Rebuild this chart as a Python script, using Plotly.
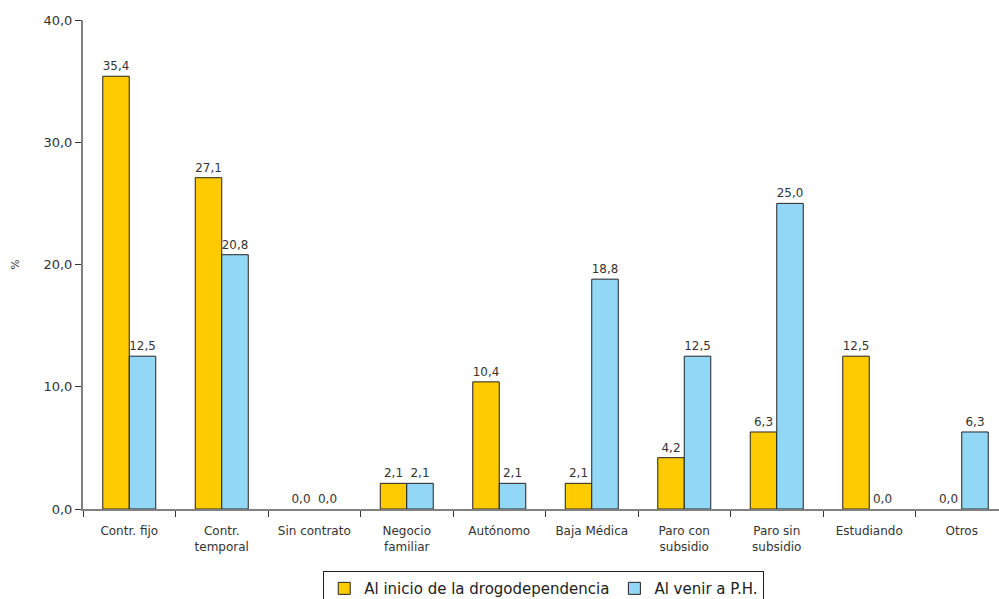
import plotly.graph_objects as go

categories = ["Contr. fijo", "Contr.<br>temporal", "Sin contrato", "Negocio<br>familiar",
              "Autónomo", "Baja Médica", "Paro con<br>subsidio", "Paro sin<br>subsidio",
              "Estudiando", "Otros"]
inicio = [35.4, 27.1, 0.0, 2.1, 10.4, 2.1, 4.2, 6.3, 12.5, 0.0]
venir = [12.5, 20.8, 0.0, 2.1, 2.1, 18.8, 12.5, 25.0, 0.0, 6.3]
series_names = ["Al inicio de la drogodependencia", "Al venir a P.H."]
y_ticks = [0, 10, 20, 30, 40]


def fmt(v):
    return f"{v:.1f}".replace(".", ",")


FONT = "DejaVu Sans"
fig = go.Figure()
for name, vals, color in [(series_names[0], inicio, "#FDCB00"),
                          (series_names[1], venir, "#92D8F6")]:
    fig.add_trace(go.Bar(
        name=name, x=categories, y=vals,
        marker=dict(color=color,
                    line=dict(color="#222222", width=[1 if v > 0 else 0 for v in vals])),
        text=[fmt(v) for v in vals], textposition="outside",
        textfont=dict(family=FONT, size=12, color="#333333"),
        cliponaxis=False,
    ))

fig.update_layout(
    width=999, height=599,
    margin=dict(l=83, r=0, t=20, b=90, autoexpand=False),
    paper_bgcolor="white", plot_bgcolor="white",
    barmode="group", bargap=0.427, bargroupgap=0,
    separators=", ",
    font=dict(family=FONT, color="#333333"),
    showlegend=True,
    legend=dict(orientation="h", x=0.503, xanchor="center", y=-0.127, yanchor="top",
                font=dict(family=FONT, size=15, color="#222222"),
                bordercolor="#222222", borderwidth=1, bgcolor="white",
                itemwidth=30, tracegroupgap=0),
    xaxis=dict(range=[-0.5, -0.5 + (999 - 83) / 92.5], showgrid=False,
               showline=True, linecolor="#808080", linewidth=2,
               ticks="outside", tickson="boundaries", ticklen=6, tickcolor="#333333",
               ticklabelstandoff=10,
               tickfont=dict(family=FONT, size=12, color="#333333")),
    yaxis=dict(range=[0, 40], tickvals=y_ticks, ticktext=[fmt(v) for v in y_ticks],
               showgrid=False, zeroline=False, showline=True, linecolor="#808080",
               linewidth=2, ticks="outside", ticklen=6, tickcolor="#333333",
               tickfont=dict(family=FONT, size=13, color="#333333"),
               title=dict(text="%", font=dict(family=FONT, size=11, color="#333333"),
                          standoff=22)),
)

fig.write_html("out.html")
